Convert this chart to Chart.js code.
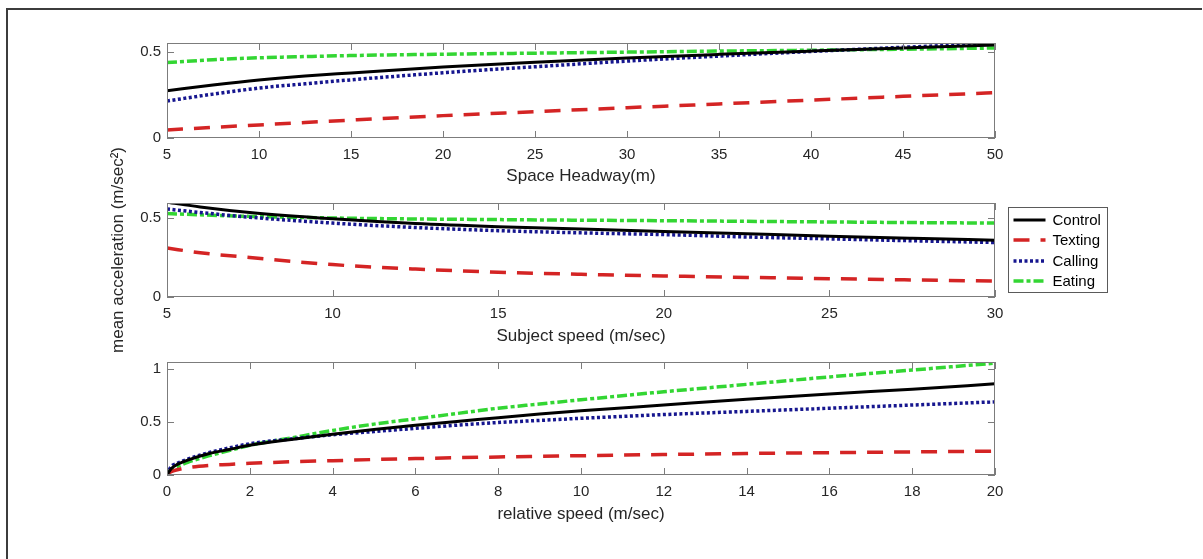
<!DOCTYPE html>
<html>
<head>
<meta charset="utf-8">
<script src="https://cdn.jsdelivr.net/npm/chart.js@4.4.0/dist/chart.umd.min.js"></script>
<style>
  html, body { margin: 0; padding: 0; background: #fff; }
  body { width: 1203px; height: 559px; position: relative; overflow: hidden; }
  .frame { position: absolute; left: 6px; top: 8px; right: 1px; bottom: -4px;
           border-left: 2px solid #3c3c3c; border-top: 2px solid #3c3c3c; }
  canvas { position: absolute; left: 0; }
</style>
</head>
<body>
<div class="frame"></div>
<canvas id="headwayChart" width="1203" height="190" style="top:0px"></canvas>
<canvas id="speedChart" width="1203" height="250" style="top:125px"></canvas>
<canvas id="relChart" width="1203" height="214" style="top:345px"></canvas>
<script>
// --- data ---
const seriesNames = ["Control", "Texting", "Calling", "Eating"];

const headway = [5, 7.5, 10, 12.5, 15, 20, 25, 30, 35, 40, 45, 50];
const headwayControl = [0.275, 0.308, 0.337, 0.36, 0.378, 0.413, 0.44, 0.465, 0.486, 0.505, 0.523, 0.54];
const headwayTexting = [0.047, 0.062, 0.076, 0.09, 0.104, 0.13, 0.153, 0.176, 0.198, 0.22, 0.242, 0.263];
const headwayCalling = [0.215, 0.255, 0.29, 0.315, 0.338, 0.379, 0.414, 0.447, 0.476, 0.503, 0.527, 0.55];
const headwayEating = [0.438, 0.455, 0.466, 0.473, 0.479, 0.487, 0.493, 0.499, 0.505, 0.51, 0.516, 0.523];

const speed = [5, 6, 7.5, 10, 12.5, 15, 17.5, 20, 22.5, 25, 27.5, 30];
const speedControl = [0.6, 0.57, 0.535, 0.495, 0.465, 0.445, 0.43, 0.415, 0.4, 0.385, 0.372, 0.36];
const speedTexting = [0.31, 0.28, 0.25, 0.205, 0.177, 0.157, 0.144, 0.133, 0.124, 0.116, 0.108, 0.101];
const speedCalling = [0.557, 0.535, 0.505, 0.468, 0.44, 0.42, 0.406, 0.395, 0.38, 0.368, 0.356, 0.345];
const speedEating = [0.528, 0.52, 0.51, 0.5, 0.494, 0.49, 0.486, 0.483, 0.479, 0.475, 0.471, 0.468];

const relSpeed = [0, 0.1, 0.25, 0.5, 1, 1.5, 2, 3, 4, 5, 6, 7, 8, 9, 10, 12, 14, 16, 18, 20];
const relControl = [0, 0.06, 0.1, 0.14, 0.2, 0.24, 0.28, 0.335, 0.385, 0.43, 0.47, 0.505, 0.54, 0.575, 0.605, 0.66, 0.715, 0.765, 0.81, 0.86];
const relTexting = [0, 0.03, 0.05, 0.07, 0.09, 0.1, 0.11, 0.125, 0.135, 0.146, 0.155, 0.163, 0.17, 0.176, 0.182, 0.193, 0.203, 0.211, 0.218, 0.225];
const relCalling = [0, 0.08, 0.11, 0.15, 0.21, 0.255, 0.295, 0.34, 0.38, 0.41, 0.44, 0.47, 0.495, 0.515, 0.535, 0.57, 0.6, 0.63, 0.66, 0.69];
const relEating = [0, 0.05, 0.08, 0.12, 0.18, 0.23, 0.28, 0.35, 0.42, 0.48, 0.53, 0.58, 0.63, 0.67, 0.71, 0.785, 0.855, 0.925, 0.99, 1.055];

const headwayTicks = [5, 10, 15, 20, 25, 30, 35, 40, 45, 50];
const speedTicks = [5, 10, 15, 20, 25, 30];
const relTicks = [0, 2, 4, 6, 8, 10, 12, 14, 16, 18, 20];
const accTicksSmall = [0, 0.5];
const accTicksLarge = [0, 0.5, 1];

// --- styling ---
Chart.defaults.font.family = "'Liberation Sans', Arial, Helvetica, sans-serif";
Chart.defaults.color = "#262626";

const LINE_STYLES = [
  { borderColor: "#000000", borderWidth: 3, borderDash: [] },
  { borderColor: "#d42424", borderWidth: 3.5, borderDash: [16, 11] },
  { borderColor: "#16168f", borderWidth: 3.5, borderDash: [3, 2.5] },
  { borderColor: "#33d633", borderWidth: 3.5, borderDash: [10, 3, 4, 3] },
];

// MATLAB-like box with inward ticks on all four sides
const boxTicks = {
  id: "boxTicks",
  afterDatasetsDraw(chart) {
    const { ctx, chartArea: a, scales } = chart;
    const len = 7;
    ctx.save();
    ctx.strokeStyle = "#7c7c7c";
    ctx.lineWidth = 1;
    ctx.strokeRect(a.left + 0.5, a.top + 0.5, a.right - a.left - 1, a.bottom - a.top - 1);
    ctx.beginPath();
    scales.x.ticks.forEach((t) => {
      const px = Math.round(scales.x.getPixelForValue(t.value)) + 0.5;
      ctx.moveTo(px, a.bottom);
      ctx.lineTo(px, a.bottom - len);
      ctx.moveTo(px, a.top);
      ctx.lineTo(px, a.top + len);
    });
    scales.y.ticks.forEach((t) => {
      const py = Math.round(scales.y.getPixelForValue(t.value)) + 0.5;
      ctx.moveTo(a.left, py);
      ctx.lineTo(a.left + len, py);
      ctx.moveTo(a.right, py);
      ctx.lineTo(a.right - len, py);
    });
    ctx.stroke();
    ctx.restore();
  },
};

// legend box to the right of the middle panel
const sideLegend = {
  id: "sideLegend",
  afterDraw(chart) {
    const { ctx, chartArea: a } = chart;
    const x0 = a.right + 13.5;
    const y0 = a.top + 4.5;
    ctx.save();
    ctx.fillStyle = "#fff";
    ctx.fillRect(x0, y0, 99, 85);
    ctx.strokeStyle = "#5a5a5a";
    ctx.lineWidth = 1;
    ctx.strokeRect(x0, y0, 99, 85);
    ctx.font = "15px 'Liberation Sans', Arial, sans-serif";
    ctx.textBaseline = "middle";
    chart.data.datasets.forEach((ds, i) => {
      const y = Math.round(y0 + 12 + i * 20.5);
      ctx.strokeStyle = ds.borderColor;
      ctx.lineWidth = ds.borderWidth;
      ctx.setLineDash(ds.borderDash);
      ctx.beginPath();
      ctx.moveTo(x0 + 5, y);
      ctx.lineTo(x0 + 37, y);
      ctx.stroke();
      ctx.setLineDash([]);
      ctx.fillStyle = "#000";
      ctx.fillText(ds.label, x0 + 44, y + 1);
    });
    ctx.restore();
  },
};

function makeDatasets(xs, seriesList) {
  return seriesList.map((ys, i) => ({
    label: seriesNames[i],
    data: xs.map((x, j) => ({ x, y: ys[j] })),
    ...LINE_STYLES[i],
    borderCapStyle: "butt",
    pointRadius: 0,
    fill: false,
    cubicInterpolationMode: "monotone",
  }));
}

function makePanel(id, cfg) {
  return new Chart(document.getElementById(id), {
    type: "line",
    data: { datasets: makeDatasets(cfg.xs, cfg.series) },
    options: {
      responsive: false,
      animation: false,
      layout: { padding: { left: 100, right: 208, top: cfg.padTop, bottom: cfg.padBottom } },
      plugins: { legend: { display: false }, tooltip: { enabled: false } },
      scales: {
        x: {
          type: "linear",
          min: cfg.xMin,
          max: cfg.xMax,
          afterBuildTicks: (s) => { s.ticks = cfg.xTicks.map((v) => ({ value: v })); },
          afterFit: (s) => { s.height = cfg.xAxisHeight; },
          grid: { display: false, drawTicks: false },
          border: { display: false },
          ticks: { padding: 8, maxRotation: 0, autoSkip: false, font: { size: 15 }, color: "#262626",
                   callback: (v) => String(v) },
          title: { display: true, text: cfg.xTitle, font: { size: 17 }, color: "#262626",
                   padding: { top: 0, bottom: 0 } },
        },
        y: {
          type: "linear",
          min: 0,
          max: cfg.yMax,
          afterBuildTicks: (s) => { s.ticks = cfg.yTicks.map((v) => ({ value: v })); },
          afterFit: (s) => { s.width = 67; },
          grid: { display: false, drawTicks: false },
          border: { display: false },
          ticks: { padding: 6, font: { size: 15 }, color: "#262626", callback: (v) => String(v) },
          title: {
            display: !!cfg.yTitle,
            text: cfg.yTitle || "",
            font: { size: 17 },
            color: "#262626",
            padding: { top: 8, bottom: 0 },
          },
        },
      },
    },
    plugins: cfg.legend ? [boxTicks, sideLegend] : [boxTicks],
  });
}

makePanel("headwayChart", {
  xs: headway,
  series: [headwayControl, headwayTexting, headwayCalling, headwayEating],
  xMin: 5, xMax: 50, xTicks: headwayTicks,
  yMax: 0.552, yTicks: accTicksSmall,
  xTitle: "Space Headway(m)",
  padTop: 43, padBottom: 3, xAxisHeight: 49,
});

// middle canvas is taller (top 125) so the shared y title fits
makePanel("speedChart", {
  xs: speed,
  series: [speedControl, speedTexting, speedCalling, speedEating],
  xMin: 5, xMax: 30, xTicks: speedTicks,
  yMax: 0.595, yTicks: accTicksSmall,
  xTitle: "Subject speed (m/sec)",
  yTitle: "mean acceleration (m/sec²)",
  padTop: 78, padBottom: 28, xAxisHeight: 50,
  legend: true,
});

makePanel("relChart", {
  xs: relSpeed,
  series: [relControl, relTexting, relCalling, relEating],
  xMin: 0, xMax: 20, xTicks: relTicks,
  yMax: 1.066, yTicks: accTicksLarge,
  xTitle: "relative speed (m/sec)",
  padTop: 17, padBottom: 34, xAxisHeight: 50,
});
</script>
</body>
</html>
